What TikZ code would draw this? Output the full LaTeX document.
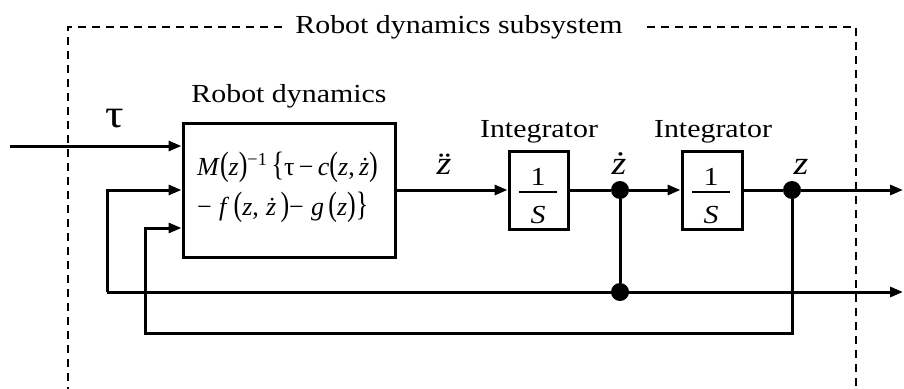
\documentclass[tikz,border=0pt]{standalone}
\usepackage{fontspec}
\setmainfont{Liberation Serif}[FakeStretch=1.15]
\newfontfamily\eqfont{Liberation Serif}
\usepackage{graphicx}
\usetikzlibrary{arrows.meta,calc}
\newcommand{\lpar}{\scalebox{1}[1.3]{(}}
\newcommand{\rpar}{\scalebox{1}[1.3]{)}}
\newcommand{\lbr}{\scalebox{1}[1.3]{\{}}
\newcommand{\rbr}{\scalebox{1}[1.3]{\}}}
\begin{document}
\begin{tikzpicture}[x=1pt,y=-1pt,
  blk/.style={draw,line width=3pt,inner sep=0pt},
  wire/.style={line width=3pt},
  arr/.style={wire,-{Triangle[length=13pt,width=10pt]}},
  jdot/.style={circle,fill,inner sep=0pt,minimum size=18pt},
  frame/.style={line width=1.7pt,dash pattern=on 8pt off 6pt},
  lbl/.style={font=\fontsize{26}{30}\selectfont,anchor=base,inner sep=0pt},
  big/.style={font=\fontsize{33}{38}\selectfont\itshape,anchor=base,inner sep=0pt},
  eqf/.style={font=\eqfont\fontsize{26}{30}\selectfont,anchor=base west,inner sep=0pt}]
\useasboundingbox (0,0) rectangle (904,388);
% frame
\node[lbl] (title) at (459,33) {Robot dynamics subsystem};
\coordinate (fl) at (282,27);
\coordinate (fr) at (647,27);
\draw[frame] (fl) -- (68,27) -- (68,395);
\draw[frame] (fr) -- (856,27) -- (856,395);
% blocks
\node[blk,minimum width=212pt,minimum height=134pt] (rd) at (289,190) {};
\node[lbl] (rdl) at (289,102) {Robot dynamics};
\node[eqf] (eq1) at (197,175) {\textit{M}\lpar\textit{z}\rpar\textsuperscript{−1}\,\lbr τ\,−\,\textit{c}\lpar\textit{z},\,\textit{ż}\rpar};
\node[eqf] (eq2) at (197,215) {−\;\textit{f}\,\lpar\textit{z},\;\textit{ż}\,\rpar−\;\textit{g}\,\lpar\textit{z}\rpar\rbr};
\node[blk,minimum width=59pt,minimum height=78pt] (i1) at (538.5,190) {};
\node[blk,minimum width=60pt,minimum height=78pt] (i2) at (712,190) {};
\node[lbl] (i1l) at (539,137) {Integrator};
\node[lbl] (i2l) at (713,137) {Integrator};
\node[lbl] (n1a) at (538,185) {1};
\node[lbl] (s1a) at (538,223) {\textit{S}};
\draw[line width=1.3pt] (519,192) -- (557,192);
\node[lbl] (n1b) at (711,185) {1};
\node[lbl] (s1b) at (711,223) {\textit{S}};
\draw[line width=1.3pt] (692,192) -- (730,192);
% labels
\node[font=\fontsize{40}{44}\selectfont,anchor=base,inner sep=0pt] (tau) at (115,127) {τ};
\node[big] (zdd) at (444,174) {\"z};
\node[big] (zd) at (619,174) {ż};
\node[big] (z) at (801,174) {z};
% junctions
\node[jdot] (d1) at (620,190) {};
\node[jdot] (d2) at (792,190) {};
\node[jdot] (d3) at (620,292) {};
\coordinate (tin) at (10,146);
\coordinate (o1) at (903,190);
\coordinate (o2) at (903,292);
\coordinate (fa) at (107,292);
\coordinate (fb) at (145,333);
\coordinate (in3) at ($(rd.west)+(0,38)$);
% connectors
\draw[arr] (tin) -- (tin -| rd.west);
\draw[arr] (rd.east) -- (i1.west);
\draw[wire] (i1.east) -- (d1);
\draw[arr] (d1) -- (i2.west);
\draw[wire] (i2.east) -- (d2);
\draw[arr] (d2) -- (o1);
\draw[wire] (d1) -- (d3);
\draw[arr] (fa) -- (o2);
\draw[arr] (fa) |- (rd.west);
\draw[arr] (d2) |- (fb) |- (in3);
\end{tikzpicture}
\end{document}
